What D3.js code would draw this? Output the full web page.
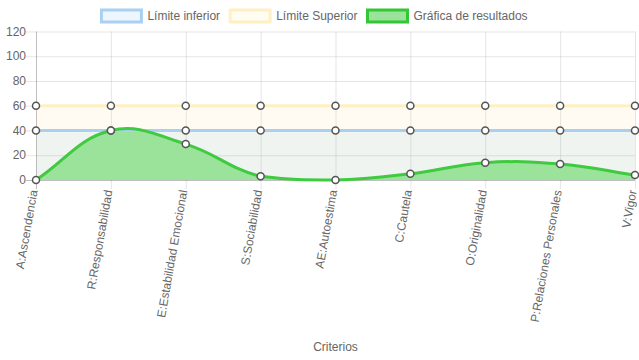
<!DOCTYPE html>
<html><head><meta charset="utf-8">
<script src="https://cdn.jsdelivr.net/npm/d3@7"></script>
<style>
body{margin:0;background:#fff;}
svg text{font-family:"Liberation Sans",Arial,Helvetica,sans-serif;font-size:12px;fill:#666;}
</style></head>
<body>
<svg id="c" width="639" height="360"></svg>
<script>
const categories = ["A:Ascendencia","R:Responsabilidad","E:Estabilidad Emocional","S:Sociabilidad","AE:Autoestima","C:Cautela","O:Originalidad","P:Relaciones Personales","V:Vigor"];
const limiteInferior = [40,40,40,40,40,40,40,40,40];
const limiteSuperior = [60,60,60,60,60,60,60,60,60];
const resultados = [0,40,29,3,0,5,14,13,4];
const yTicks = [0,20,40,60,80,100,120];
const seriesNames = ["Límite inferior","Límite Superior","Gráfica de resultados"];

(function(){
const svg = d3.select("#c");
const pLeft = 36, pRight = 635, pTop = 31.5, pBottom = 180;
const x = d3.scalePoint().domain(categories).range([pLeft, pRight]);
const y = d3.scaleLinear().domain([0,120]).range([pBottom, pTop]);

// grid
const g = svg.append("g");
yTicks.forEach(t => {
  g.append("line").attr("x1", pLeft-10).attr("x2", pRight).attr("y1", y(t)+0.5).attr("y2", y(t)+0.5)
   .attr("stroke", t===0 ? "rgba(0,0,0,0.25)" : "rgba(0,0,0,0.1)").attr("stroke-width",1);
  g.append("text").attr("x", pLeft-10).attr("y", y(t)).attr("dy","0.35em").attr("text-anchor","end").text(t);
});
categories.forEach((c,i) => {
  g.append("line").attr("x1", x(c)+0.5).attr("x2", x(c)+0.5).attr("y1", pTop).attr("y2", pBottom+9)
   .attr("stroke", i===0 ? "rgba(0,0,0,0.25)" : "rgba(0,0,0,0.1)").attr("stroke-width",1);
  g.append("text").attr("transform", `translate(${x(c)-2.5},${pBottom+10}) rotate(-80)`)
   .attr("text-anchor","end").attr("dy","0.35em").text(c);
});

// Chart.js style spline with tension 0.4 and capping
function splinePath(vals, close) {
  const pts = vals.map((v,i) => ({x: x(categories[i]), y: y(v)}));
  const t = 0.4;
  const cl = (v,a,b) => Math.max(a, Math.min(b, v));
  pts.forEach((p,i) => {
    const prev = pts[i-1] || p, next = pts[i+1] || p;
    const d01 = Math.hypot(p.x-prev.x, p.y-prev.y), d12 = Math.hypot(next.x-p.x, next.y-p.y);
    let s01 = d01/(d01+d12), s12 = d12/(d01+d12);
    if (isNaN(s01)) s01 = 0; if (isNaN(s12)) s12 = 0;
    const fa = t*s01, fb = t*s12;
    p.cpx0 = cl(p.x - fa*(next.x-prev.x),pLeft,pRight); p.cpy0 = cl(p.y - fa*(next.y-prev.y),pTop,pBottom);
    p.cpx1 = cl(p.x + fb*(next.x-prev.x),pLeft,pRight); p.cpy1 = cl(p.y + fb*(next.y-prev.y),pTop,pBottom);
  });
  const path = d3.path();
  path.moveTo(pts[0].x, pts[0].y);
  for (let i=1;i<pts.length;i++) {
    const a = pts[i-1], b = pts[i];
    path.bezierCurveTo(a.cpx1, a.cpy1, b.cpx0, b.cpy0, b.x, b.y);
  }
  if (close) {
    path.lineTo(pts[pts.length-1].x, y(0));
    path.lineTo(pts[0].x, y(0));
    path.closePath();
  }
  return path.toString();
}

const series = [
  {vals: limiteSuperior, fill: "rgba(255,206,86,0.08)", stroke: "#fff0c4"},
  {vals: limiteInferior, fill: "rgba(54,162,235,0.08)", stroke: "#a9cff2"},
  {vals: resultados, fill: "#9be29b", stroke: "#3fca3f"}
];
const pg = svg.append("g");
series.forEach(s => {
  pg.append("path").attr("d", splinePath(s.vals, true)).attr("fill", s.fill).attr("stroke","none");
});
series.forEach(s => {
  pg.append("path").attr("d", splinePath(s.vals, false)).attr("fill","none").attr("stroke", s.stroke).attr("stroke-width",3);
});
series.forEach(s => {
  pg.selectAll(null).data(s.vals).enter().append("circle")
   .attr("cx",(d,i)=>x(categories[i])).attr("cy",d=>y(d)).attr("r",3.5)
   .attr("fill","#fff").attr("stroke","#555").attr("stroke-width",1.5);
});

// axis title
svg.append("text").attr("x",(pLeft+pRight)/2).attr("y",347).attr("dy","0.35em").attr("text-anchor","middle").text("Criterios");

// legend
const legendStyles = [
  {fill:"#eef6fd", stroke:"#a9cff2"},
  {fill:"#fffcf2", stroke:"#fff0c4"},
  {fill:"#9be29b", stroke:"#33c733"}
];
const lg = svg.append("g");
const widths = [];
const texts = seriesNames.map(n => { const t = lg.append("text").attr("dy","0.35em").text(n); widths.push(t.node().getComputedTextLength()); return t; });
const itemW = widths.map(w => 40 + 6 + w + 10);
let cx = (639 - d3.sum(itemW))/2;
seriesNames.forEach((n,i) => {
  lg.append("rect").attr("x",cx).attr("y",10).attr("width",40).attr("height",12)
    .attr("fill",legendStyles[i].fill).attr("stroke",legendStyles[i].stroke).attr("stroke-width",3);
  texts[i].attr("x",cx+46).attr("y",16);
  cx += itemW[i];
});
})();
</script>
</body></html>
